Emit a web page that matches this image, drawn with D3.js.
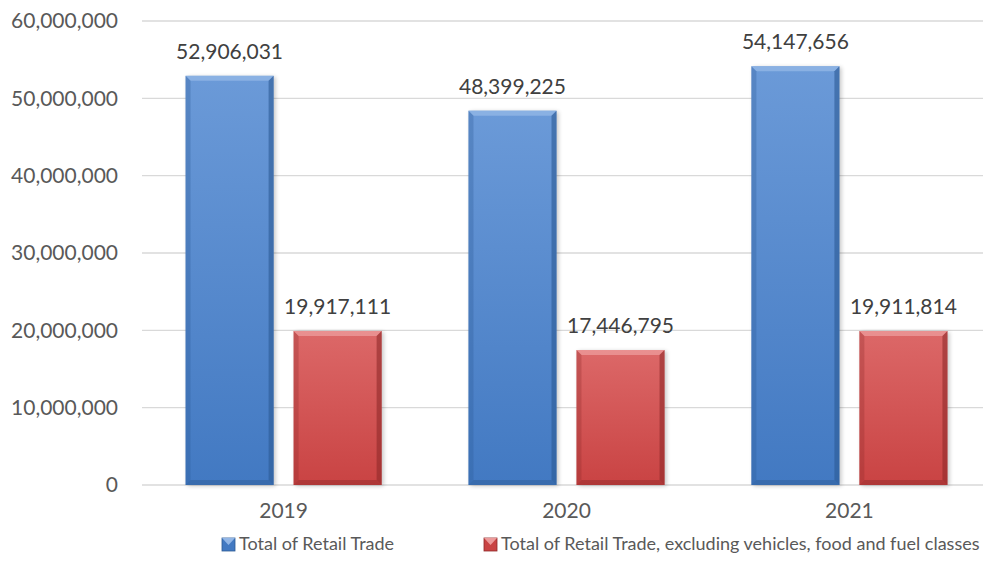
<!DOCTYPE html>
<html><head><meta charset="utf-8">
<script src="https://cdn.jsdelivr.net/npm/d3@7"></script>
<style>body{margin:0;background:#fff;}svg{display:block;font-family:Lato,"Open Sans",sans-serif;}</style>
</head><body><svg id="c" width="983" height="583"></svg>
<script>
const categories = ["2019","2020","2021"];
const seriesNames = ["Total of Retail Trade","Total of Retail Trade, excluding vehicles, food and fuel classes"];
const totalRetail = [52906031, 48399225, 54147656];
const retailExcl = [19917111, 17446795, 19911814];
const yTicks = [0,10000000,20000000,30000000,40000000,50000000,60000000];

const svg = d3.select("#c");
const W = 983, H = 583;
const plotL = 142, plotR = 991, plotT = 21, plotB = 485;
const x0 = d3.scaleBand().domain(categories).range([plotL, plotR]).paddingInner(0.307).paddingOuter(0.154);
const x1 = d3.scaleBand().domain([0,1]).range([0, x0.bandwidth()]).paddingInner(0.185);
const y = d3.scaleLinear().domain([0,60000000]).range([plotB, plotT]);
const fmt = d3.format(",");
const FS = 21;

const defs = svg.append("defs");
const cols = [{base:"#4279c2", light:"#6b9ad8", dark:"#2c5a94", top:"#92b6e6"},
              {base:"#c94343", light:"#dc6868", dark:"#8f2a2a", top:"#ec9a9a"}];
cols.forEach((c,i)=>{
  const g = defs.append("linearGradient").attr("id","g"+i).attr("x1",0).attr("y1",0).attr("x2",0).attr("y2",1);
  g.append("stop").attr("offset",0).attr("stop-color",c.light);
  g.append("stop").attr("offset",1).attr("stop-color",c.base);
});
const f = defs.append("filter").attr("id","sh").attr("x","-20%").attr("y","-20%").attr("width","140%").attr("height","140%");
f.append("feGaussianBlur").attr("stdDeviation",2);

svg.append("g").selectAll("line").data(yTicks).join("line")
  .attr("x1", plotL).attr("x2", W).attr("y1", d=>y(d)).attr("y2", d=>y(d))
  .attr("stroke","#d9d9d9").attr("stroke-width",1.3);

const yAxis = d3.axisLeft(y).tickValues(yTicks).tickFormat(d=>fmt(d)).tickSize(0).tickPadding(24);
const ya = svg.append("g").attr("transform",`translate(${plotL},0)`).call(yAxis);
ya.select(".domain").remove();
ya.selectAll("text").attr("font-size",FS).attr("fill","#595959").attr("font-family","Lato,'Open Sans',sans-serif");

const xAxis = d3.axisBottom(x0).tickSize(0).tickPadding(18);
const xa = svg.append("g").attr("transform",`translate(0,${y(0)})`).call(xAxis);
xa.select(".domain").remove();
xa.selectAll("text").attr("font-size",FS).attr("fill","#595959").attr("font-family","Lato,'Open Sans',sans-serif");

const series = [totalRetail, retailExcl];
series.forEach((vals,si)=>{
  const c = cols[si];
  const g = svg.append("g");
  categories.forEach((cat,ci)=>{
    const v = vals[ci];
    const bx = x0(cat)+x1(si), bw = x1.bandwidth();
    const by = y(v), bh = y(0)-y(v);
    const b = 5;
    g.append("rect").attr("x",bx+2).attr("y",by+1).attr("width",bw).attr("height",bh).attr("fill","#000").attr("opacity",0.22).attr("filter","url(#sh)");
    g.append("rect").attr("x",bx).attr("y",by).attr("width",bw).attr("height",bh).attr("fill",`url(#g${si})`);
    g.append("polygon").attr("points",`${bx},${by} ${bx+bw},${by} ${bx+bw-b},${by+b} ${bx+b},${by+b}`).attr("fill",c.top).attr("opacity",0.8);
    g.append("polygon").attr("points",`${bx},${by} ${bx+b},${by+b} ${bx+b},${by+bh-b} ${bx},${by+bh}`).attr("fill",c.dark).attr("opacity",0.3);
    g.append("polygon").attr("points",`${bx+bw},${by} ${bx+bw},${by+bh} ${bx+bw-b},${by+bh-b} ${bx+bw-b},${by+b}`).attr("fill",c.dark).attr("opacity",0.6);
    g.append("polygon").attr("points",`${bx},${by+bh} ${bx+bw},${by+bh} ${bx+bw-b},${by+bh-b} ${bx+b},${by+bh-b}`).attr("fill",c.dark).attr("opacity",0.45);
    g.append("text").attr("x",bx+bw/2).attr("y",by-17).attr("text-anchor","middle")
      .attr("font-size",FS).attr("fill","#404040").text(fmt(v));
  });
});

const leg = svg.append("g").attr("transform","translate(0,550)");
const legX = [222, 484];
seriesNames.forEach((n,i)=>{
  const c = cols[i];
  leg.append("rect").attr("x",legX[i]).attr("y",-12).attr("width",13).attr("height",13).attr("fill",c.base).attr("stroke",c.dark).attr("stroke-width",0.8);
  leg.append("polygon").attr("points",`${legX[i]},-12 ${legX[i]+13},-12 ${legX[i]+6.5},-5`).attr("fill",c.top);
  leg.append("text").attr("x",legX[i]+17).attr("y",0).attr("font-size",18).attr("fill","#595959").text(n);
});
</script></body></html>
